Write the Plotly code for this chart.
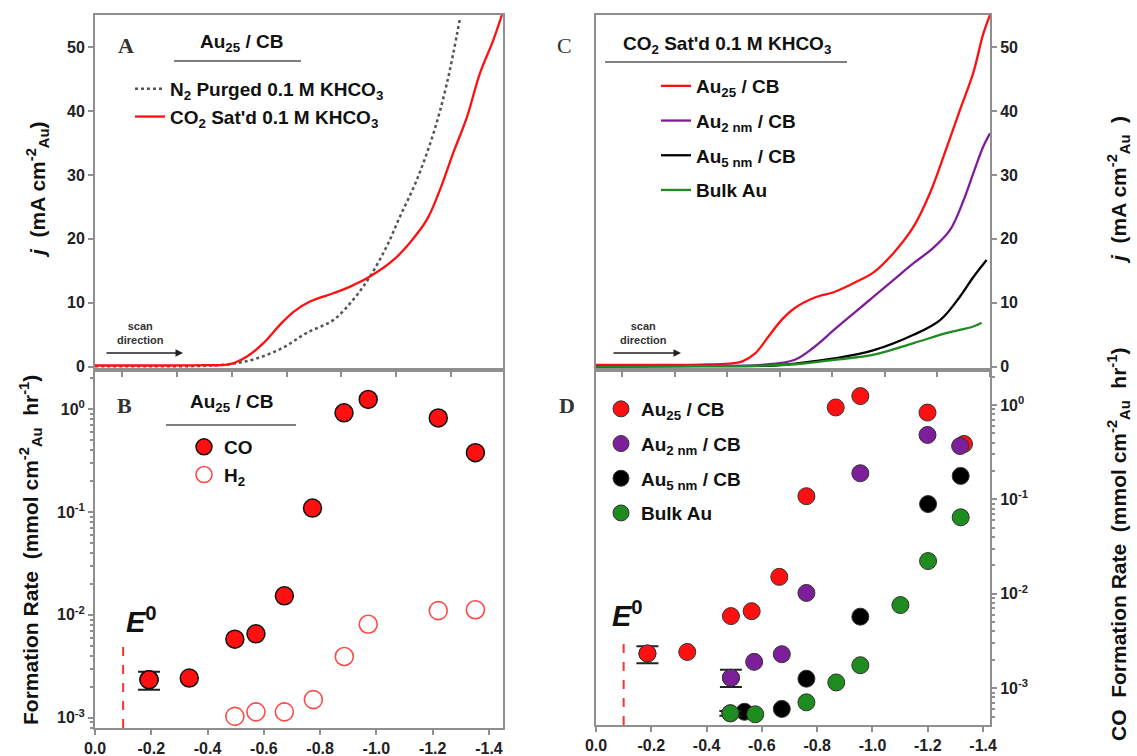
import plotly.graph_objects as go

W, H = 1137, 756

# ---------------- Panel A : LSV, Au25/CB ----------------
a_n2_x = [0.1, -0.1, -0.3, -0.405, -0.49, -0.587, -0.673, -0.77, -0.843, -0.904, -0.965, -1.014, -1.075, -1.136, -1.185, -1.233]
a_n2_y = [0.1, 0.1, 0.15, 0.5, 1.3, 3.0, 5.3, 7.3, 10.5, 14.1, 18.8, 23.5, 29.2, 36.5, 44.3, 54.5]
a_co2_x = [0.1, -0.1, -0.3, -0.393, -0.455, -0.515, -0.576, -0.625, -0.685, -0.77, -0.83, -0.904, -0.99, -1.05, -1.112, -1.16, -1.208, -1.258, -1.306, -1.354, -1.386]
a_co2_y = [0.2, 0.2, 0.25, 0.4, 1.6, 3.7, 6.6, 8.6, 10.2, 11.5, 12.5, 14.1, 16.7, 19.4, 23.0, 27.7, 33.4, 39.0, 45.9, 51.0, 55.0]

# ---------------- Panel C : LSV, CO2 saturated ----------------
c_au25_x = [0.1, -0.1, -0.3, -0.405, -0.455, -0.506, -0.556, -0.606, -0.657, -0.731, -0.807, -0.882, -0.958, -1.033, -1.109, -1.172, -1.236, -1.286, -1.336, -1.374, -1.4]
c_au25_y = [0.3, 0.3, 0.35, 0.5, 0.8, 2.1, 4.7, 7.3, 9.2, 10.8, 11.7, 13.1, 14.8, 17.8, 21.9, 27.2, 34.4, 40.2, 45.9, 52.0, 55.0]
c_au2_x = [0.1, -0.3, -0.53, -0.657, -0.731, -0.807, -0.882, -0.958, -1.033, -1.109, -1.184, -1.248, -1.299, -1.336, -1.374, -1.4]
c_au2_y = [0.1, 0.15, 0.3, 1.1, 3.1, 5.8, 8.4, 11.0, 13.6, 16.2, 18.6, 21.4, 26.0, 30.2, 34.4, 36.5]
c_au5_x = [0.1, -0.3, -0.58, -0.657, -0.807, -0.958, -1.109, -1.21, -1.286, -1.336, -1.387]
c_au5_y = [0.05, 0.1, 0.2, 0.5, 1.3, 2.6, 5.0, 7.3, 11.0, 14.0, 16.7]
c_bulk_x = [0.1, -0.3, -0.55, -0.657, -0.807, -0.958, -1.109, -1.236, -1.336, -1.368]
c_bulk_y = [0.05, 0.1, 0.2, 0.4, 1.1, 1.9, 3.7, 5.3, 6.3, 6.9]

# ---------------- Panel B : formation rates, Au25/CB ----------------
b_co_x = [-0.192, -0.335, -0.497, -0.572, -0.673, -0.773, -0.885, -0.971, -1.22, -1.352]
b_co_y = [0.00234, 0.00243, 0.0058, 0.00654, 0.0153, 0.109, 0.92, 1.24, 0.82, 0.377]
b_h2_x = [-0.497, -0.572, -0.673, -0.776, -0.886, -0.971, -1.22, -1.352]
b_h2_y = [0.00103, 0.00114, 0.00114, 0.0015, 0.00394, 0.0081, 0.011, 0.0112]
# error bar on first CO point
b_err_x = [-0.192]
b_err_y = [0.00234]
b_err_plus = [0.00046]
b_err_minus = [0.00047]

# ---------------- Panel D : CO formation rates ----------------
d_au25_x = [-0.186, -0.33, -0.488, -0.563, -0.663, -0.761, -0.867, -0.956, -1.199, -1.331]
d_au25_y = [0.00233, 0.00242, 0.0058, 0.00654, 0.0151, 0.108, 0.94, 1.24, 0.83, 0.386]
d_au2_x = [-0.488, -0.572, -0.672, -0.761, -0.956, -1.199, -1.317]
d_au2_y = [0.00129, 0.0019, 0.00229, 0.0102, 0.189, 0.481, 0.367]
d_au5_x = [-0.537, -0.672, -0.761, -0.956, -1.201, -1.319]
d_au5_y = [0.000562, 0.000603, 0.00126, 0.00572, 0.0891, 0.177]
d_bulk_x = [-0.486, -0.576, -0.761, -0.869, -0.956, -1.101, -1.201, -1.319]
d_bulk_y = [0.000542, 0.000529, 0.000708, 0.00115, 0.00175, 0.00759, 0.0222, 0.0645]
# error bars (Au25, Au2nm, Bulk Au lowest-potential points)
d_err_x = [-0.186, -0.488, -0.486]
d_err_y = [0.00233, 0.00129, 0.000542]
d_err_plus = [0.00045, 0.00028, 0.00003]
d_err_minus = [0.00049, 0.00026, 0.00003]
d_err_colors = ["#ff1010", "#7d1f9a", "#1e8c1e"]

e0_potential = -0.1

x_tickvals = [0.0, -0.2, -0.4, -0.6, -0.8, -1.0, -1.2, -1.4]
x_ticktext = ["0.0", "-0.2", "-0.4", "-0.6", "-0.8", "-1.0", "-1.2", "-1.4"]
log_tickvals = [1e-3, 1e-2, 1e-1, 1]
log_ticktext = ["10<sup>-3</sup>", "10<sup>-2</sup>", "10<sup>-1</sup>", "10<sup>0</sup>"]
lin_tickvals = [0, 10, 20, 30, 40, 50]

RED = "#ff1010"
PURPLE = "#7d1f9a"
BLACK = "#000000"
GREEN = "#1e8c1e"
FONT = "Liberation Sans, Arial, sans-serif"

def px(x):
    return x / W

def py(y):
    return 1 - y / H

fig = go.Figure()

# Panel A
fig.add_trace(go.Scatter(x=a_n2_x, y=a_n2_y, mode="lines", line=dict(color="#555", width=2.5, dash="dot", shape="spline"),
                         name="N<sub>2</sub> Purged 0.1 M KHCO<sub>3</sub>", xaxis="x", yaxis="y", legend="legend", legendgroup="a1"))
fig.add_trace(go.Scatter(x=a_co2_x, y=a_co2_y, mode="lines", line=dict(color=RED, width=2.3, shape="spline"),
                         name="CO<sub>2</sub> Sat'd 0.1 M KHCO<sub>3</sub>", xaxis="x", yaxis="y", legend="legend", legendgroup="a2"))

# Panel C
for xs, ys, col, nm, g in [(c_au25_x, c_au25_y, RED, "Au<sub>25</sub> / CB", "c1"),
                           (c_au2_x, c_au2_y, PURPLE, "Au<sub>2 nm</sub> / CB", "c2"),
                           (c_au5_x, c_au5_y, BLACK, "Au<sub>5 nm</sub> / CB", "c3"),
                           (c_bulk_x, c_bulk_y, GREEN, "Bulk Au", "c4")]:
    fig.add_trace(go.Scatter(x=xs, y=ys, mode="lines", line=dict(color=col, width=2.3, shape="spline"),
                             name=nm, xaxis="x3", yaxis="y3", legend="legend3", legendgroup=g))

# Panel B
fig.add_trace(go.Scatter(x=b_co_x, y=b_co_y, mode="markers", name="CO",
                         marker=dict(color=RED, size=18, line=dict(color="#111", width=1.5)),
                         xaxis="x2", yaxis="y2", legend="legend2", legendgroup="b1"))
fig.add_trace(go.Scatter(x=b_err_x, y=b_err_y, mode="markers", showlegend=False,
                         marker=dict(color=RED, size=18, line=dict(color="#111", width=1.5)),
                         error_y=dict(type="data", symmetric=False, array=b_err_plus, arrayminus=b_err_minus,
                                      color="#222", thickness=2, width=11),
                         xaxis="x2", yaxis="y2", legend="legend2"))
fig.add_trace(go.Scatter(x=b_h2_x, y=b_h2_y, mode="markers", name="H<sub>2</sub>",
                         marker=dict(symbol="circle-open", color="#ff4a4a", size=18, line=dict(width=1.6)),
                         xaxis="x2", yaxis="y2", legend="legend2", legendgroup="b2"))

# Panel D
for xs, ys, col, nm, g in [(d_au25_x, d_au25_y, RED, "Au<sub>25</sub> / CB", "d1"),
                           (d_au2_x, d_au2_y, PURPLE, "Au<sub>2 nm</sub> / CB", "d2"),
                           (d_au5_x, d_au5_y, BLACK, "Au<sub>5 nm</sub> / CB", "d3"),
                           (d_bulk_x, d_bulk_y, GREEN, "Bulk Au", "d4")]:
    fig.add_trace(go.Scatter(x=xs, y=ys, mode="markers", name=nm,
                             marker=dict(color=col, size=17, line=dict(color="#333", width=1)),
                             xaxis="x4", yaxis="y4", legend="legend4", legendgroup=g))
fig.add_trace(go.Scatter(x=d_err_x, y=d_err_y, mode="markers", showlegend=False,
                         marker=dict(color=d_err_colors, size=17, line=dict(color="#333", width=1)),
                         error_y=dict(type="data", symmetric=False, array=d_err_plus, arrayminus=d_err_minus,
                                      color="#222", thickness=2, width=11),
                         xaxis="x4", yaxis="y4", legend="legend4"))

tickfont = dict(family=FONT, size=16, color="#222", weight="bold")
base = dict(showline=True, linecolor="#8f8f8f", linewidth=2, mirror=True, showgrid=False, zeroline=False,
            ticks="outside", ticklen=5, tickwidth=1.5, tickcolor="#8f8f8f", tickfont=tickfont, automargin=False)

minor_vals = []
for e in range(-4, 1):
    for k in range(2, 10):
        minor_vals.append(k * 10 ** e)

xa_dom = [px(95), px(503)]
xc_dom = [px(596), px(990)]
top_dom = [py(370), py(15)]

fig.update_layout(
    width=W, height=H, margin=dict(l=0, r=0, t=0, b=0), paper_bgcolor="white", plot_bgcolor="white",
    xaxis=dict(base, domain=xa_dom, range=[0.1, -1.39], tick0=0, dtick=0.2, showticklabels=False, anchor="y"),
    yaxis=dict(base, domain=top_dom, range=[-0.5, 55], tickvals=lin_tickvals, anchor="x"),
    xaxis2=dict(base, domain=xa_dom, range=[0, -1.45], tickvals=x_tickvals, ticktext=x_ticktext, anchor="y2"),
    yaxis2=dict(base, type="log", domain=[py(728), py(370)], range=[-3.1, 0.38], tickvals=log_tickvals,
                ticktext=log_ticktext, anchor="x2",
                minor=dict(tickvals=minor_vals, ticks="outside", ticklen=3, tickcolor="#8f8f8f")),
    xaxis3=dict(base, domain=xc_dom, range=[0.1, -1.4], tick0=0, dtick=0.2, showticklabels=False, anchor="y3"),
    yaxis3=dict(base, domain=top_dom, range=[-0.5, 55], tickvals=lin_tickvals, side="right", anchor="x3"),
    xaxis4=dict(base, domain=xc_dom, range=[0, -1.425], tickvals=x_tickvals, ticktext=x_ticktext, anchor="y4"),
    yaxis4=dict(base, type="log", domain=[py(725), py(370)], range=[-3.39, 0.37], tickvals=log_tickvals,
                ticktext=log_ticktext, side="right", anchor="x4",
                minor=dict(tickvals=minor_vals, ticks="outside", ticklen=3, tickcolor="#8f8f8f")),
)

legfont = dict(family=FONT, size=19, color="#111", weight="bold")
leg_common = dict(bgcolor="rgba(0,0,0,0)", font=legfont, xanchor="left", yanchor="top", borderwidth=0)
fig.update_layout(
    legend=dict(leg_common, x=px(130), y=py(70), tracegroupgap=0),
    legend2=dict(leg_common, x=px(184), y=py(428), tracegroupgap=0),
    legend3=dict(leg_common, x=px(656), y=py(67), tracegroupgap=7),
    legend4=dict(leg_common, x=px(601), y=py(390), tracegroupgap=7),
)

ann = []
def text(x, y, s, size=19, family=FONT, bold=True, color="#111", angle=0, xanchor="center"):
    ann.append(dict(x=px(x), y=py(y), xref="paper", yref="paper", text=s, showarrow=False, textangle=angle,
                    xanchor=xanchor, yanchor="middle",
                    font=dict(family=family, size=size, color=color, weight="bold" if bold else "normal")))

# panel letters
serif = "Liberation Serif, Times New Roman, serif"
text(126, 45, "A", 22, serif, color="#333")
text(124, 405, "B", 22, serif, color="#333")
text(564, 45, "C", 22, serif, bold=False, color="#333")
text(567, 405, "D", 22, serif, color="#333")

# legend headers
text(241, 43, "Au<sub>25</sub> / CB", 19)
text(231, 403, "Au<sub>25</sub> / CB", 19)
text(727, 45, "CO<sub>2</sub> Sat'd 0.1 M KHCO<sub>3</sub>", 19)

# axis titles
text(37, 190, "<i>j</i>  (mA cm<sup>-2</sup><sub>Au</sub>)", 21, angle=-90)
text(30, 550, "Formation Rate  (mmol cm<sup>-2</sup><sub>Au</sub>  hr<sup>-1</sup>)", 21, angle=-90)
text(1118, 190, "<i>j</i>  (mA cm<sup>-2</sup><sub>Au</sub>  )", 21, angle=-90)
text(1118, 545, "CO  Formation Rate  (mmol cm<sup>-2</sup><sub>Au</sub>  hr<sup>-1</sup>)", 21, angle=-90)

# E0 labels
text(141, 620, "<i>E</i><sup>0</sup>", 29)
text(627, 614, "<i>E</i><sup>0</sup>", 29)

# scan direction
for cx, x0, x1 in [(140, 105, 183), (643, 612, 681)]:
    text(cx, 333, "scan<br>direction", 11, color="#333")
    ann.append(dict(x=px(x1), y=py(353), ax=-(x1 - x0), ay=0, xref="paper", yref="paper", axref="pixel", ayref="pixel",
                    showarrow=True, arrowhead=2, arrowsize=1, arrowwidth=1.5, arrowcolor="#222", text=""))

fig.update_layout(annotations=ann)

shapes = [
    dict(type="line", xref="paper", yref="paper", x0=px(174), x1=px(301), y0=py(61), y1=py(61), line=dict(color="#555", width=1.5)),
    dict(type="line", xref="paper", yref="paper", x0=px(166), x1=px(296), y0=py(425), y1=py(425), line=dict(color="#555", width=1.5)),
    dict(type="line", xref="paper", yref="paper", x0=px(605), x1=px(847), y0=py(62), y1=py(62), line=dict(color="#555", width=1.5)),
    dict(type="line", xref="x2", yref="y2 domain", x0=e0_potential, x1=e0_potential, y0=0, y1=0.24,
         line=dict(color="#ff3030", width=2, dash="dash")),
    dict(type="line", xref="x4", yref="y4 domain", x0=e0_potential, x1=e0_potential, y0=0, y1=0.24,
         line=dict(color="#ff3030", width=2, dash="dash")),
]
fig.update_layout(shapes=shapes)

fig.write_html("out.html")
